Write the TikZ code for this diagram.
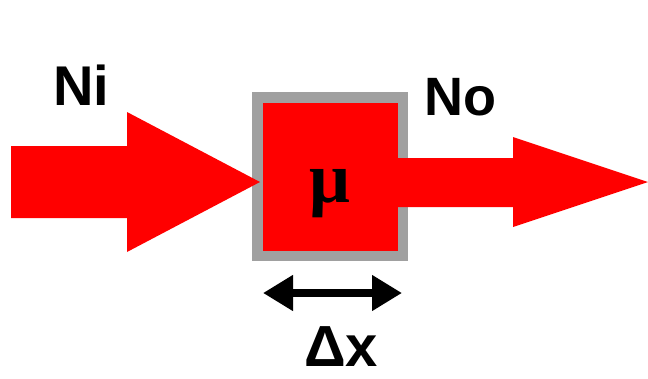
\documentclass[tikz,border=0pt]{standalone}
\usepackage{fontspec}
\setmainfont{Liberation Sans}
\newfontfamily\mufont{Liberation Serif}
\usetikzlibrary{arrows.meta}
\definecolor{flowred}{HTML}{FF0000}
\definecolor{wallgray}{HTML}{A0A0A0}
\newcommand{\bigbf}[1]{\fontsize{#1}{#1}\selectfont\bfseries}

\begin{document}
\begin{tikzpicture}[x=1pt,y=-1pt,
  flow/.style={fill=flowred,draw=none},
  cell/.style={draw=wallgray,fill=flowred,line width=10.5pt,minimum width=145.5pt,minimum height=158.5pt,inner sep=0pt},
  label/.style={inner sep=0pt,anchor=base west}]
\useasboundingbox (0,0) rectangle (648,378);
\node[cell] (box) at (330,176.5) {};
\node[inner sep=0pt,anchor=base] (mu) at (330,202) {\mufont\bigbf{72}μ};
% inflow and outflow
\draw[flow] (11,146) -- (127,146) -- (127,112) -- (260,182) -- (127,252) -- (127,218) -- (11,218) -- cycle;
\draw[flow] (397,158) -- (513,158) -- (513,137) -- (648,182) -- (513,227) -- (513,207) -- (397,207) -- cycle;
\node[label] (ni) at (53,105) {\bigbf{56}Ni};
\node[label] (no) at (424,115) {\bigbf{54}No};
% width of the cell
\coordinate (wl) at (263,293);
\coordinate (wr) at (402,293);
\draw[line width=8pt,{Triangle[length=30pt,width=34pt]}-{Triangle[length=30pt,width=34pt]}] (wl) -- (wr);
\node[inner sep=0pt,anchor=base] (dx) at (341,366) {\bigbf{58}Δx};
\end{tikzpicture}
\end{document}
